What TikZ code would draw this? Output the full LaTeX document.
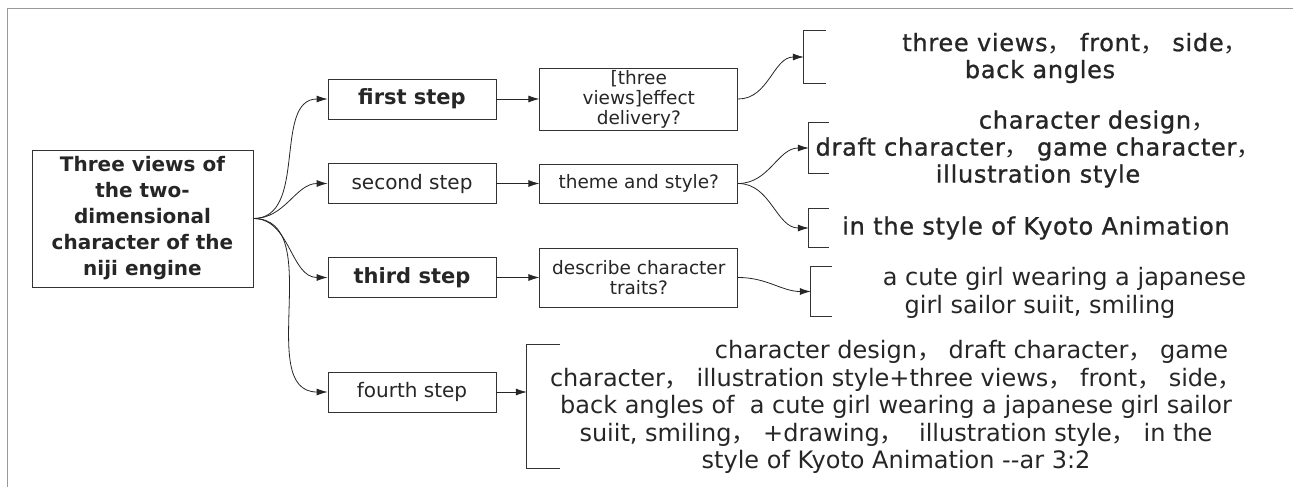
\documentclass[tikz,border=0pt]{standalone}
\usepackage{fontspec}
\setmainfont{DejaVu Sans}
\newfontfamily\cjk{Noto Sans CJK SC}
\newfontfamily\weit[LetterSpace=3,FakeBold=1]{DejaVu Sans}
\usetikzlibrary{positioning}
\usetikzlibrary{arrows.meta}
\newcommand{\komma}{{\cjk ，}}

\begin{document}
\begin{tikzpicture}[x=1pt,y=-1pt,node distance=43pt,
kasten/.style={draw=black!80,line width=0.8pt,align=center,inner sep=2pt,text=black!85},
schritt/.style={kasten,minimum width=168pt,minimum height=40pt},
frage/.style={kasten,minimum width=198pt,font=\fontsize{18.5}{20}\selectfont},
klammer/.style={inner sep=0pt},
klammerlinie/.style={draw=black!80,line width=0.8pt},
antwort/.style={align=center,text=black!85,font=\weit\fontsize{24}{27}\selectfont},
antwortB/.style={align=center,text=black!85,font=\fontsize{24}{27.5}\selectfont},
verbindung/.style={-{Latex[length=11pt,width=7pt]},line width=0.8pt,black!85}
]
\useasboundingbox (0,0) rectangle (1293,487);
\draw[black!40,line width=0.8pt] (7,487) -- (7,8) -- (1293,8);
%--
\node[kasten,minimum width=221pt,minimum height=137pt,font=\bfseries\fontsize{20}{26}\selectfont](haupt) at (142.5,218.5){Three views of\\the two-\\dimensional\\character of the\\niji engine};
%--
\node[schritt,font=\bfseries\fontsize{21}{26}\selectfont](s1) at (412,99){first step};
\node[schritt,font=\fontsize{20}{24}\selectfont](s2) at (412,183.5){second step};
\node[schritt,font=\bfseries\fontsize{21}{26}\selectfont](s3) at (412,277.5){third step};
\node[schritt,font=\fontsize{20}{24}\selectfont](s4) at (412,392){fourth step};
\draw [verbindung] (haupt.east) to[out=0,in=180] (s1.west);
\draw [verbindung] (haupt.east) to[out=0,in=180] (s2.west);
\draw [verbindung] (haupt.east) to[out=0,in=180] (s3.west);
\draw [verbindung] (haupt.east) to[out=0,in=180] (s4.west);
%--
\node[frage,minimum height=59pt,right = of s1](f1){[three\\views]effect\\delivery?};
\draw [verbindung] (s1) -- (f1);
\node[frage,minimum height=39pt,right = of s2](f2){theme and style?};
\draw [verbindung] (s2) -- (f2);
\node[frage,minimum height=59pt,right = of s3](f3){describe character\\traits?};
\draw [verbindung] (s3) -- (f3);
%--
\node[klammer,minimum width=22pt,minimum height=52pt](k1) at (815,57){};
\draw[klammerlinie] (k1.north east) -- (k1.north west) -- (k1.south west) -- (k1.south east);
\draw [verbindung] (f1.east) to[out=0,in=180] (k1.west);
\node[antwort](t1) at (1040,58){\hspace*{70pt}three views\komma{} front\komma{} side\komma\\back angles};
%--
\node[klammer,minimum width=20pt,minimum height=50pt](k2) at (819,148){};
\draw[klammerlinie] (k2.north east) -- (k2.north west) -- (k2.south west) -- (k2.south east);
\draw [verbindung] (f2.east) to[out=0,in=180] (k2.west);
\node[antwort](t2) at (1038,149){\hspace*{118pt}character design\komma\\draft character\komma{} game character\komma\\illustration style};
%--
\node[klammer,minimum width=20pt,minimum height=38pt](k3) at (819,228){};
\draw[klammerlinie] (k3.north east) -- (k3.north west) -- (k3.south west) -- (k3.south east);
\draw [verbindung] (f2.east) to[out=0,in=180] (k3.west);
\node[antwort](t3) at (1036,228){in the style of Kyoto Animation};
%--
\node[klammer,minimum width=21pt,minimum height=49pt](k4) at (821.5,291.5){};
\draw[klammerlinie] (k4.north east) -- (k4.north west) -- (k4.south west) -- (k4.south east);
\draw [verbindung] (f3.east) to[out=0,in=180] (k4.west);
\node[antwortB](t4) at (1040,293){\hspace*{49pt}a cute girl wearing a japanese\\girl sailor suiit, smiling};
%--
\node[klammer,minimum width=33pt,minimum height=123pt](k5) at (543.5,406.5){};
\draw[klammerlinie] (k5.north east) -- (k5.north west) -- (k5.south west) -- (k5.south east);
\draw [verbindung] (s4.east) -- (s4.east -| k5.west);
\node[antwortB](t5) at (896,407){\hspace*{151pt}character design\komma{} draft character\komma{} game\\character\komma{} illustration style+three views\komma{} front\komma{} side\komma\\back angles of\ \ a cute girl wearing a japanese girl sailor\\suiit, smiling\komma{} +drawing\komma\ \ illustration style\komma{} in the\\style of Kyoto Animation -{}-ar 3:2};
\end{tikzpicture}
\end{document}
